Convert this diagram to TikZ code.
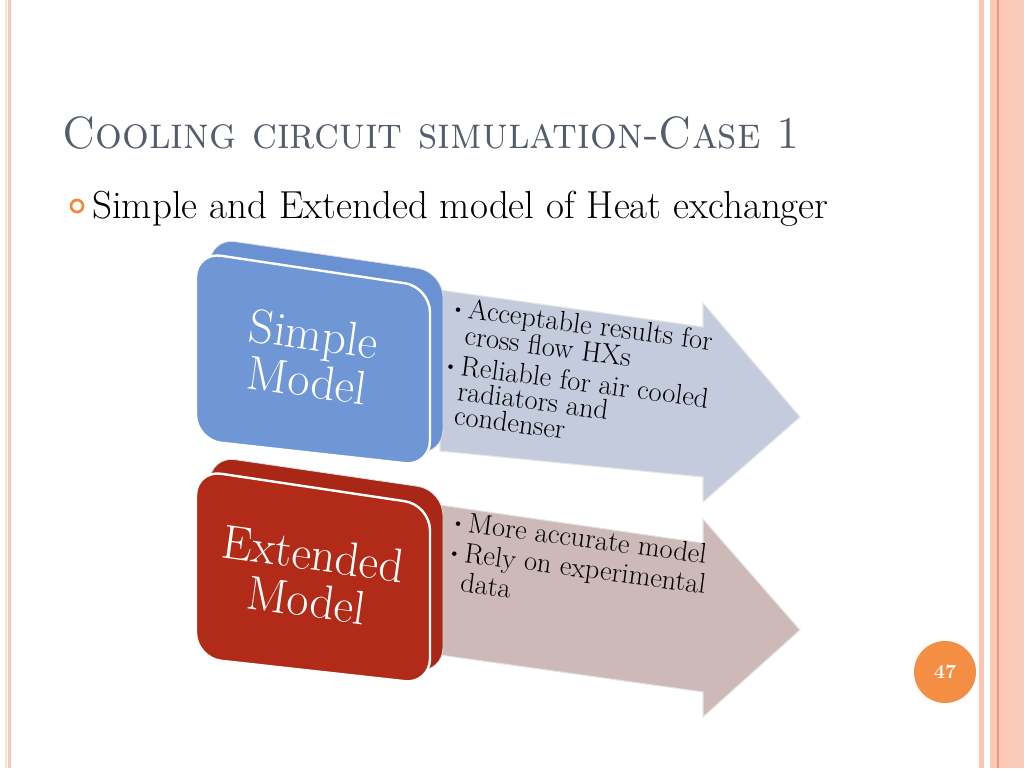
\documentclass[tikz,border=0pt]{standalone}
\usepackage{fontspec}
\definecolor{titlec}{HTML}{535D6B}
\definecolor{accent}{HTML}{F3883A}
\definecolor{pinkA}{HTML}{FAC5B4}
\definecolor{pinkB}{HTML}{FCC8B6}
\definecolor{pinkLine}{HTML}{E49A7C}
\definecolor{pinkLight}{HTML}{FBE2D5}
\definecolor{blueFront}{HTML}{6F97D5}
\definecolor{blueBack}{HTML}{6A91D1}
\definecolor{redFront}{HTML}{B12B18}
\definecolor{redBack}{HTML}{A82716}
\definecolor{blueArrow}{HTML}{C4CBDD}
\definecolor{redArrow}{HTML}{CEB9B9}
\newcommand{\bitem}[1]{\par\hangindent=13pt\hangafter=1\noindent\makebox[13pt][l]{\raisebox{1pt}{\scalebox{0.7}{\textbullet}}}#1}
\begin{document}
\begin{tikzpicture}[x=0.75pt,y=-0.75pt,
  boxtext/.style={text=white, font=\fontsize{36}{35}\selectfont, align=center, rotate=-8, inner sep=0pt},
  arrowtext/.style={anchor=base west, rotate=-7.5, inner sep=0pt, text=black},
  arrowshape/.style={draw=white!80!gray, line width=0.8pt},
  backface/.style={draw=white!75!gray, line width=0.6pt, rounded corners=19pt},
  frontface/.style={draw=white, line width=1.8pt, rounded corners=19pt}]
\useasboundingbox (0,0) rectangle (1024,768);
\fill[white] (0,0) rectangle (1024,768);
% borders
\fill[pinkLight] (5,0) rectangle (6.5,768);
\fill[pinkA] (8,0) rectangle (11,768);
\fill[pinkA] (979,0) rectangle (983.5,768);
\fill[pinkB] (990,0) rectangle (1024,768);
\fill[pinkA!90!white] (1008,0) rectangle (1024,768);
\draw[pinkLine, line width=0.8pt] (998,0) -- (998,768);
% title
\node[anchor=base west, inner sep=0pt, text=titlec, font=\fontsize{34}{40}\selectfont] (title) at (62,148) {\scalebox{0.93}[1]{\textsc{Cooling circuit simulation-Case 1}}};
% bullet
\node[circle, draw=accent, line width=2pt, minimum size=9pt, inner sep=0pt] (dot) at (77,206) {};
\node[anchor=base west, inner sep=0pt, font=\fontsize{29.3}{32}\selectfont] (sub) at (92,218) {Simple and Extended model of Heat exchanger};
% arrows
\filldraw[arrowshape, fill=blueArrow] (440,290) -- (703,327) -- (703,303) -- (800,417) -- (703,502) -- (703,477) -- (440,451) -- cycle;
\filldraw[arrowshape, fill=redArrow] (440,505) -- (703,543) -- (703,519) -- (800,630) -- (703,717) -- (703,692) -- (440,655) -- cycle;
% arrow texts
\node[arrowtext] (t1) at (450,316) {\parbox[t]{320pt}{\fontsize{21.3}{18.6}\selectfont\raggedright\setlength{\parskip}{4.5pt}%
\bitem{Acceptable results for\newline cross flow HXs}
\bitem{Reliable for air cooled\newline radiators and\newline condenser}}};
\node[arrowtext] (t2) at (450,530) {\parbox[t]{320pt}{\fontsize{21.3}{22.5}\selectfont\raggedright%
\bitem{More accurate model}
\bitem{Rely on experimental\newline data}}};
% red box
\filldraw[backface, fill=redBack] (210,456) -- (443,490) -- (443,673) -- (210,646) -- cycle;
\filldraw[frontface, fill=redFront] (196,470) -- (430,505) -- (430,684) -- (196,658) -- cycle;
\node[boxtext] (ext) at (310,577) {Extended\\Model};
% blue box
\filldraw[backface, fill=blueBack] (210,238) -- (443,272) -- (443,455) -- (210,428) -- cycle;
\filldraw[frontface, fill=blueFront] (196,252) -- (430,287) -- (430,466) -- (196,440) -- cycle;
\node[boxtext] (simp) at (311,357) {Simple\\Model};
% page number
\node[circle, fill=accent!95!white, minimum size=46.5pt, inner sep=0pt, text=white, font=\bfseries\fontsize{15}{15}\selectfont] (pg) at (945,672) {47};
\end{tikzpicture}
\end{document}
